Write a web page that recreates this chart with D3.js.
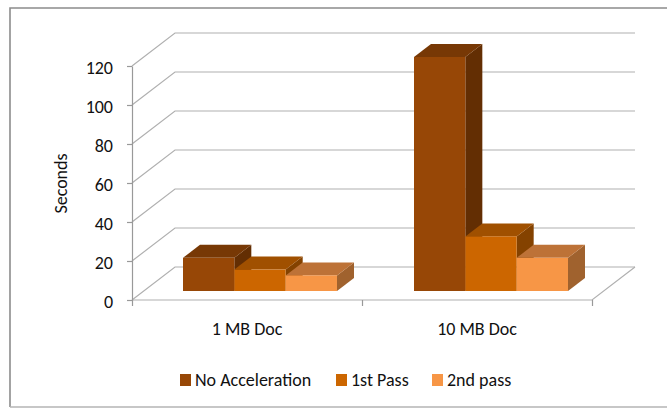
<!DOCTYPE html>
<html>
<head>
<meta charset="utf-8">
<script src="https://cdn.jsdelivr.net/npm/d3@7"></script>
<style>
  html, body { margin: 0; padding: 0; background: #fff; }
  text { font-family: Carlito, Lato, "Open Sans", sans-serif; fill: #111; }
</style>
</head>
<body>
<svg id="chart" width="667" height="408" style="display:block"></svg>
<script>
const categories = ["1 MB Doc", "10 MB Doc"];
const seriesNames = ["No Acceleration", "1st Pass", "2nd pass"];
const noAcceleration = [17, 120];
const firstPass = [11, 28];
const secondPass = [8, 17];
const yTicks = [0, 20, 40, 60, 80, 100, 120];

const seriesValues = [noAcceleration, firstPass, secondPass];
const frontColors = ["#974706", "#cc6600", "#f79646"];
const topColors = ["#773805", "#a05000", "#bd7237"];
const sideColors = ["#632e03", "#844200", "#a0622e"];

const svg = d3.select("#chart");

// Slide frame: top, left and bottom edges only, running off the right side
svg.append("path")
  .attr("d", d3.line()([[667, 8], [10, 8], [10, 407]]))
  .attr("fill", "none").attr("stroke", "#8c8c8c").attr("stroke-width", 1.6);
svg.append("path")
  .attr("d", d3.line()([[10, 407], [667, 407]]))
  .attr("fill", "none").attr("stroke", "#b4b4b4").attr("stroke-width", 1.4);

// Scales for the front of the axis box and for the plane holding the bars
const axisX = d3.scaleLinear().domain([0, 2]).range([132, 592]);
const axisY = d3.scaleLinear().domain([0, 120]).range([300, 66]);
const barY = d3.scaleLinear().domain([0, 120]).range([291, 57]);
const band = d3.scaleBand().domain(d3.range(categories.length)).range([132, 594]);
const groupInset = 51;
const barW = (band.bandwidth() - 2 * groupInset + 25) / 3;

// Receding offset of the box and of one bar
const boxDx = 43, boxDy = -33;
const barDx = 17, barDy = -13;

const gridColor = "#b0b0b0";
const grid = svg.append("g").attr("fill", "none").attr("stroke", gridColor).attr("stroke-width", 1.2);

// Back wall gridlines and side wall diagonals
yTicks.forEach(t => {
  const y = axisY(t);
  grid.append("path").attr("d", d3.line()([
    [axisX(0), y], [axisX(0) + boxDx, y + boxDy], [axisX(2) + boxDx, y + boxDy]
  ]));
});
// Floor edges
grid.append("path").attr("d", d3.line()([
  [axisX(0), axisY(0)], [axisX(2), axisY(0)], [axisX(2) + boxDx, axisY(0) + boxDy]
]));

// Value axis with outward ticks
const axisG = svg.append("g").attr("transform", `translate(${axisX(0)},0)`)
  .call(d3.axisLeft(axisY).tickValues(yTicks).tickSize(5).tickSizeOuter(0).tickPadding(14));
axisG.attr("font-family", null).attr("font-size", null);
axisG.select(".domain").attr("stroke", "#999").attr("stroke-width", 1.2);
axisG.selectAll(".tick line").attr("stroke", "#999").attr("stroke-width", 1.2);
axisG.selectAll(".tick text").attr("dy", "0.4em").style("font-size", "18px");

// Category tick marks below the floor
const catAxis = svg.append("g").attr("transform", `translate(0,${axisY(0)})`)
  .call(d3.axisBottom(axisX).tickValues([0, 1, 2]).tickSize(6).tickFormat(""));
catAxis.select(".domain").remove();
catAxis.selectAll(".tick line").attr("stroke", "#999").attr("stroke-width", 1.2);

// Category labels
svg.append("g").selectAll("text").data(categories).join("text")
  .attr("x", (d, i) => axisX(i + 0.5))
  .attr("y", 335)
  .attr("text-anchor", "middle")
  .style("font-size", "18px")
  .text(d => d);

// Bars, drawn left to right within each group so each box covers the previous side
const bars = svg.append("g");
categories.forEach((c, ci) => {
  seriesValues.forEach((vals, si) => {
    const x0 = band(ci) + groupInset + si * barW;
    const x1 = x0 + barW;
    const yTop = barY(vals[ci]);
    const yBase = barY(0);
    const g = bars.append("g");
    g.append("path").attr("fill", sideColors[si]).attr("d", d3.line()([
      [x1, yTop], [x1 + barDx, yTop + barDy], [x1 + barDx, yBase + barDy], [x1, yBase]
    ]) + "Z");
    g.append("path").attr("fill", topColors[si]).attr("d", d3.line()([
      [x0, yTop], [x0 + barDx, yTop + barDy], [x1 + barDx, yTop + barDy], [x1, yTop]
    ]) + "Z");
    g.append("rect").attr("fill", frontColors[si])
      .attr("x", x0).attr("y", yTop).attr("width", barW).attr("height", yBase - yTop);
  });
});

// Axis title
svg.append("text")
  .attr("transform", "translate(67,183.5) rotate(-90)")
  .attr("text-anchor", "middle")
  .style("font-size", "18px")
  .text("Seconds");

// Legend
const legendX = [180, 336, 432];
const legend = svg.append("g").selectAll("g").data(seriesNames).join("g")
  .attr("transform", (d, i) => `translate(${legendX[i]},374)`);
legend.append("rect").attr("width", 11).attr("height", 12).attr("fill", (d, i) => frontColors[i]);
legend.append("text").attr("x", 15).attr("y", 12).style("font-size", "18px").text(d => d);
</script>
</body>
</html>
